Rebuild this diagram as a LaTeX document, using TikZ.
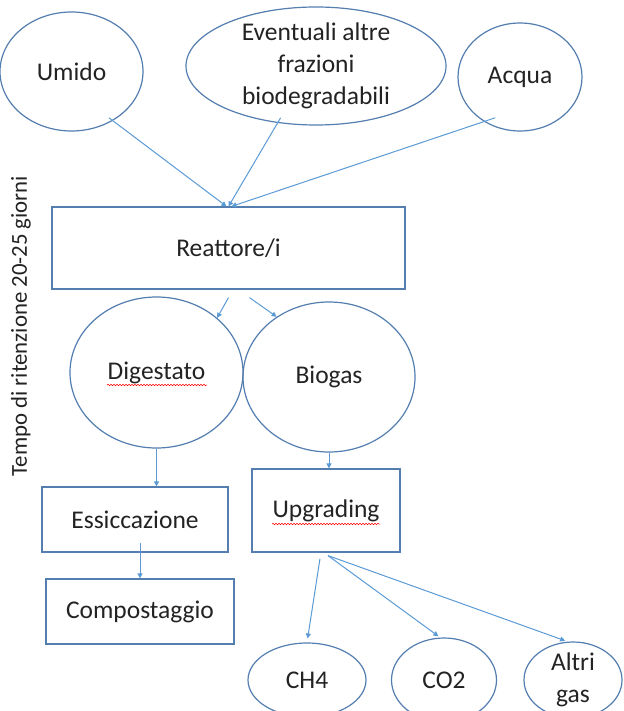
\documentclass[tikz,border=0pt]{standalone}
\usepackage{fontspec}
\setmainfont{Carlito}
\usetikzlibrary{shapes.geometric,arrows.meta,decorations.pathmorphing}
\definecolor{edgeblue}{RGB}{84,126,176}
\definecolor{arrowblue}{RGB}{91,155,213}
\definecolor{textgray}{RGB}{35,35,35}
\begin{document}
\begin{tikzpicture}[x=1pt, y=-1pt,
    font=\fontsize{25.5}{32}\selectfont, text=textgray,
    bubble/.style={ellipse, draw=edgeblue, line width=1.2pt, inner sep=-8pt, align=center},
    stepbox/.style={rectangle, draw=edgeblue, line width=1.2pt, inner sep=0pt},
    flow/.style={draw=arrowblue, line width=1pt, -{Triangle[length=5pt,width=5pt]}},
    spell/.style={draw=red, line width=0.5pt, decorate,
      decoration={snake, amplitude=0.8pt, segment length=3pt}}]
    \useasboundingbox (0,0) rectangle (623,711);
    \fill[white] (0,0) rectangle (623,711);
    \node[bubble, minimum width=143, minimum height=119] (umido) at (71.5,71.5) {Umido};
    \node[bubble, minimum width=260, minimum height=118] (eventuali) at (316,66)
      {Eventuali altre\\frazioni\\biodegradabili};
    \node[bubble, minimum width=124, minimum height=108] (acqua) at (520,77) {Acqua};
    \node[stepbox, minimum width=353, minimum height=82] (reattore) at (228.5,248) {Reattore/i};
    \node[bubble, minimum width=173, minimum height=151] (digestato) at (156.5,372.5) {Digestato};
    \node[bubble, minimum width=172, minimum height=150] (biogas) at (329,377) {Biogas};
    \node[stepbox, minimum width=186, minimum height=65] (essiccazione) at (135,519.5) {Essiccazione};
    \node[stepbox, minimum width=188, minimum height=65] (compostaggio) at (140,611.5) {Compostaggio};
    \node[stepbox, minimum width=148, minimum height=83] (upgrading) at (326,510.5) {Upgrading};
    \node[bubble, minimum width=118, minimum height=74] (ch4) at (307,680) {CH4};
    \node[bubble, minimum width=105, minimum height=84] (co2) at (444,680) {CO2};
    \node[bubble, minimum width=98, minimum height=76] (altri) at (573,680) {Altri\\gas};
    \node[rotate=90, font=\fontsize{22.8}{27}\selectfont] (tempo) at (21,326)
      {Tempo di ritenzione 20-25 giorni};
    \draw[spell] (107,385) -- (207,385);
    \draw[spell] (272,524) -- (380,524);
    \draw[flow, shorten <=-5pt] (umido.-50) -- ([xshift=-2]reattore.north);
    \draw[flow, shorten <=-6pt] (eventuali.-124) -- (reattore.north);
    \draw[flow, shorten <=-12pt] (acqua.-129) -- ([xshift=3]reattore.north);
    \draw[flow] ([yshift=-8]reattore.south) -- (digestato.42);
    \draw[flow] ([xshift=21,yshift=-8]reattore.south) -- (biogas.131);
    \draw[flow] (digestato.south) -- (digestato.south |- essiccazione.north);
    \draw[flow, shorten <=-10pt] (compostaggio.north |- essiccazione.south) -- (compostaggio.north);
    \draw[flow] (biogas.south) -- (biogas.south |- upgrading.north);
    \draw[flow, shorten >=4pt] ([xshift=-6,yshift=-6]upgrading.south) -- (ch4.north);
    \foreach \gas/\dx in {co2/-4, altri/-6}
      \draw[flow, shorten >=2pt] ([xshift=2,yshift=-3]upgrading.south) -- ([xshift=\dx]\gas.north);
\end{tikzpicture}
\end{document}
